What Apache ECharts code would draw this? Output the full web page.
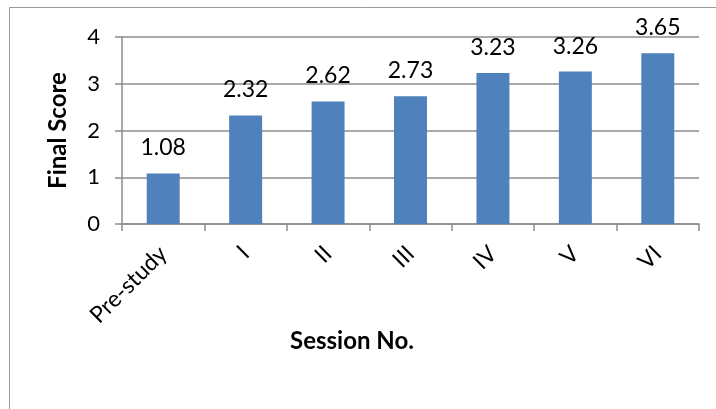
<!DOCTYPE html>
<html>
<head>
<meta charset="utf-8">
<script src="https://cdn.jsdelivr.net/npm/echarts@6/dist/echarts.min.js"></script>
<style>
  html, body { margin: 0; padding: 0; background: #fff; }
  #chart { width: 716px; height: 409px; }
</style>
</head>
<body>
<div id="chart"></div>
<script>
// Session categories and the final score for each
const sessions = ['Pre-study', 'I', 'II', 'III', 'IV', 'V', 'VI'];
const finalScores = [1.08, 2.32, 2.62, 2.73, 3.23, 3.26, 3.65];
const scoreTicks = [0, 1, 2, 3, 4];

const FONT = 'Lato, "Open Sans", sans-serif';
const GRID_GRAY = '#8c8c8c';

const chart = echarts.init(document.getElementById('chart'), null, { renderer: 'canvas' });

chart.setOption({
  animation: false,
  backgroundColor: '#fff',
  grid: { left: 122, right: 17, top: 37, bottom: 185, containLabel: false },
  graphic: [
    {
      type: 'rect',
      shape: { x: 9.5, y: 7.5, width: 720, height: 410 },
      style: { fill: 'none', stroke: '#9a9a9a', lineWidth: 1 },
      silent: true
    },
    {
      type: 'text',
      x: 352, y: 341,
      style: {
        text: 'Session No.',
        font: 'bold 24px ' + FONT,
        fill: '#000',
        textAlign: 'center',
        textVerticalAlign: 'middle'
      },
      silent: true
    }
  ],
  xAxis: {
    type: 'category',
    data: sessions,
    boundaryGap: true,
    axisLine: { lineStyle: { color: GRID_GRAY, width: 1.5 } },
    axisTick: { show: true, alignWithLabel: false, length: 7, lineStyle: { color: GRID_GRAY, width: 1.5 } },
    axisLabel: {
      interval: 0,
      rotate: 45,
      margin: 26,
      fontFamily: FONT,
      fontSize: 23,
      color: '#000'
    }
  },
  yAxis: {
    type: 'value',
    min: scoreTicks[0],
    max: scoreTicks[scoreTicks.length - 1],
    interval: 1,
    name: 'Final Score',
    nameLocation: 'middle',
    nameGap: 52,
    nameTextStyle: { fontFamily: FONT, fontSize: 24, fontWeight: 'bold', color: '#000' },
    axisLine: { show: true, lineStyle: { color: GRID_GRAY, width: 1.5 } },
    axisTick: { show: true, length: 7, lineStyle: { color: GRID_GRAY, width: 1.5 } },
    axisLabel: { margin: 22, fontFamily: FONT, fontSize: 22, color: '#000' },
    splitLine: { show: true, lineStyle: { color: GRID_GRAY, width: 1.5 } }
  },
  series: [{
    type: 'bar',
    data: finalScores,
    barWidth: '40%',
    itemStyle: { color: '#4F81BD' },
    label: {
      show: true,
      position: 'top',
      distance: 14,
      fontFamily: FONT,
      fontSize: 23,
      color: '#000',
      formatter: p => p.value.toFixed(2)
    }
  }]
});
</script>
</body>
</html>
